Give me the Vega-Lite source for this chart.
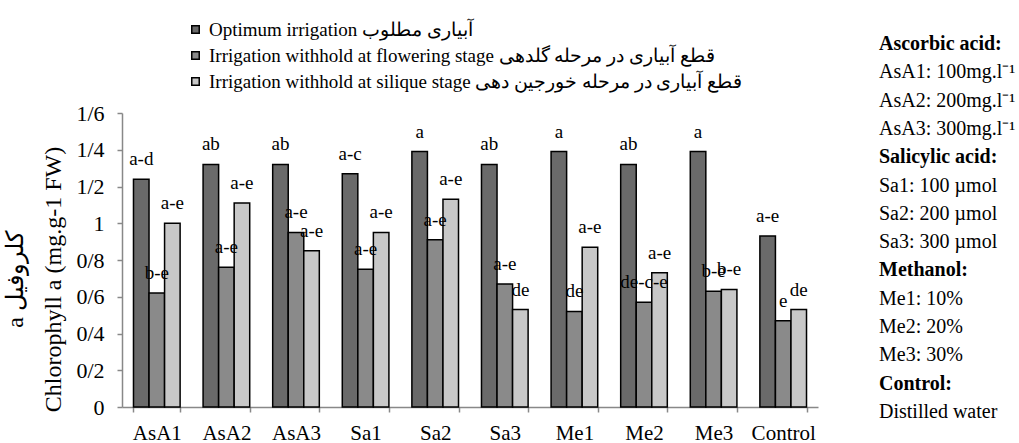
{
  "$schema": "https://vega.github.io/schema/vega-lite/v6.json",
  "background": "white",
  "padding": {"left": 3, "top": 20, "right": 5, "bottom": 0},
  "config": {
    "font": "Liberation Serif",
    "view": {"stroke": null},
    "axis": {"labelFont": "Liberation Serif", "titleFont": "Liberation Serif", "labelColor": "black", "titleColor": "black", "domainColor": "#888888", "tickColor": "#888888", "grid": false, "titleFontWeight": "normal"},
    "legend": {"labelFont": "Liberation Serif"},
    "concat": {"spacing": 60}
  },
  "datasets": {
    "bars": [
      {"group": "AsA1", "treatment": "Optimum irrigation آبیاری مطلوب", "value": 1.24, "label": "a-d"},
      {"group": "AsA1", "treatment": "Irrigation withhold at flowering stage قطع آبیاری در مرحله گلدهی", "value": 0.62, "label": "b-e"},
      {"group": "AsA1", "treatment": "Irrigation withhold at silique stage قطع آبیاری در مرحله خورجین دهی", "value": 1.0, "label": "a-e"},
      {"group": "AsA2", "treatment": "Optimum irrigation آبیاری مطلوب", "value": 1.32, "label": "ab"},
      {"group": "AsA2", "treatment": "Irrigation withhold at flowering stage قطع آبیاری در مرحله گلدهی", "value": 0.76, "label": "a-e"},
      {"group": "AsA2", "treatment": "Irrigation withhold at silique stage قطع آبیاری در مرحله خورجین دهی", "value": 1.11, "label": "a-e"},
      {"group": "AsA3", "treatment": "Optimum irrigation آبیاری مطلوب", "value": 1.32, "label": "ab"},
      {"group": "AsA3", "treatment": "Irrigation withhold at flowering stage قطع آبیاری در مرحله گلدهی", "value": 0.95, "label": "a-e"},
      {"group": "AsA3", "treatment": "Irrigation withhold at silique stage قطع آبیاری در مرحله خورجین دهی", "value": 0.85, "label": "a-e"},
      {"group": "Sa1", "treatment": "Optimum irrigation آبیاری مطلوب", "value": 1.27, "label": "a-c"},
      {"group": "Sa1", "treatment": "Irrigation withhold at flowering stage قطع آبیاری در مرحله گلدهی", "value": 0.75, "label": "a-e"},
      {"group": "Sa1", "treatment": "Irrigation withhold at silique stage قطع آبیاری در مرحله خورجین دهی", "value": 0.95, "label": "a-e"},
      {"group": "Sa2", "treatment": "Optimum irrigation آبیاری مطلوب", "value": 1.39, "label": "a"},
      {"group": "Sa2", "treatment": "Irrigation withhold at flowering stage قطع آبیاری در مرحله گلدهی", "value": 0.91, "label": "a-e"},
      {"group": "Sa2", "treatment": "Irrigation withhold at silique stage قطع آبیاری در مرحله خورجین دهی", "value": 1.13, "label": "a-e"},
      {"group": "Sa3", "treatment": "Optimum irrigation آبیاری مطلوب", "value": 1.32, "label": "ab"},
      {"group": "Sa3", "treatment": "Irrigation withhold at flowering stage قطع آبیاری در مرحله گلدهی", "value": 0.67, "label": "a-e"},
      {"group": "Sa3", "treatment": "Irrigation withhold at silique stage قطع آبیاری در مرحله خورجین دهی", "value": 0.53, "label": "de"},
      {"group": "Me1", "treatment": "Optimum irrigation آبیاری مطلوب", "value": 1.39, "label": "a"},
      {"group": "Me1", "treatment": "Irrigation withhold at flowering stage قطع آبیاری در مرحله گلدهی", "value": 0.52, "label": "de"},
      {"group": "Me1", "treatment": "Irrigation withhold at silique stage قطع آبیاری در مرحله خورجین دهی", "value": 0.87, "label": "a-e"},
      {"group": "Me2", "treatment": "Optimum irrigation آبیاری مطلوب", "value": 1.32, "label": "ab"},
      {"group": "Me2", "treatment": "Irrigation withhold at flowering stage قطع آبیاری در مرحله گلدهی", "value": 0.57, "label": "de-c-e"},
      {"group": "Me2", "treatment": "Irrigation withhold at silique stage قطع آبیاری در مرحله خورجین دهی", "value": 0.73, "label": "a-e"},
      {"group": "Me3", "treatment": "Optimum irrigation آبیاری مطلوب", "value": 1.39, "label": "a"},
      {"group": "Me3", "treatment": "Irrigation withhold at flowering stage قطع آبیاری در مرحله گلدهی", "value": 0.63, "label": "b-e"},
      {"group": "Me3", "treatment": "Irrigation withhold at silique stage قطع آبیاری در مرحله خورجین دهی", "value": 0.64, "label": "b-e"},
      {"group": "Control", "treatment": "Optimum irrigation آبیاری مطلوب", "value": 0.93, "label": "a-e"},
      {"group": "Control", "treatment": "Irrigation withhold at flowering stage قطع آبیاری در مرحله گلدهی", "value": 0.47, "label": "e"},
      {"group": "Control", "treatment": "Irrigation withhold at silique stage قطع آبیاری در مرحله خورجین دهی", "value": 0.53, "label": "de"}
    ],
    "notes": [
      {"idx": 0, "kind": "heading", "text": "Ascorbic acid:"},
      {"idx": 1, "kind": "item", "text": "AsA1: 100mg.l⁻¹"},
      {"idx": 2, "kind": "item", "text": "AsA2: 200mg.l⁻¹"},
      {"idx": 3, "kind": "item", "text": "AsA3: 300mg.l⁻¹"},
      {"idx": 4, "kind": "heading", "text": "Salicylic acid:"},
      {"idx": 5, "kind": "item", "text": "Sa1: 100 µmol"},
      {"idx": 6, "kind": "item", "text": "Sa2: 200 µmol"},
      {"idx": 7, "kind": "item", "text": "Sa3: 300 µmol"},
      {"idx": 8, "kind": "heading", "text": " Methanol:"},
      {"idx": 9, "kind": "item", "text": "Me1: 10%"},
      {"idx": 10, "kind": "item", "text": "Me2: 20%"},
      {"idx": 11, "kind": "item", "text": "Me3: 30%"},
      {"idx": 12, "kind": "heading", "text": " Control:"},
      {"idx": 13, "kind": "item", "text": "Distilled water"}
    ]
  },
  "resolve": {"legend": {"fill": "independent"}},
  "hconcat": [
    {
      "width": 696,
      "height": 294,
      "data": {"name": "bars"},
      "encoding": {
        "x": {
          "field": "group", "type": "nominal",
          "sort": ["AsA1", "AsA2", "AsA3", "Sa1", "Sa2", "Sa3", "Me1", "Me2", "Me3", "Control"],
          "scale": {"paddingInner": 0.33, "paddingOuter": 0.165},
          "axis": {"title": null, "labelAngle": 0, "labelFontSize": 21, "tickBand": "extent", "tickSize": 5, "labelPadding": 10, "domainWidth": 1.5, "tickWidth": 1.5}
        },
        "xOffset": {
          "field": "treatment", "type": "nominal",
          "sort": ["Optimum irrigation آبیاری مطلوب", "Irrigation withhold at flowering stage قطع آبیاری در مرحله گلدهی", "Irrigation withhold at silique stage قطع آبیاری در مرحله خورجین دهی"]
        },
        "y": {
          "field": "value", "type": "quantitative",
          "scale": {"domain": [0, 1.6], "nice": false},
          "axis": {
            "values": [0, 0.2, 0.4, 0.6, 0.8, 1, 1.2, 1.4, 1.6],
            "labelExpr": "replace(format(datum.value, '~g'), '.', '/')",
            "labelFontSize": 22, "labelPadding": 13, "tickSize": 5, "domainWidth": 1.5, "tickWidth": 1.5,
            "title": ["‫کلروفیل a‬", "Chlorophyll a (mg.g-1 FW)"],
            "titleFontSize": 24, "titlePadding": 10, "titleLineHeight": 38, "titleY": 166
          }
        }
      },
      "layer": [
        {
          "mark": {"type": "bar", "stroke": "black", "strokeWidth": 1.5},
          "encoding": {
            "fill": {
              "field": "treatment", "type": "nominal",
              "scale": {
                "domain": ["Optimum irrigation آبیاری مطلوب", "Irrigation withhold at flowering stage قطع آبیاری در مرحله گلدهی", "Irrigation withhold at silique stage قطع آبیاری در مرحله خورجین دهی"],
                "range": ["#6a6a6a", "#8a8a8a", "#c8c8c8"]
              },
              "legend": {
                "title": null, "orient": "none", "legendX": 64, "legendY": -93,
                "direction": "vertical", "symbolType": "square", "symbolSize": 56,
                "symbolStrokeColor": "black", "symbolStrokeWidth": 1.5,
                "labelFont": "Liberation Serif", "labelFontSize": 19, "labelColor": "black", "rowPadding": 6, "labelLimit": 0, "labelOffset": 4
              }
            }
          }
        },
        {
          "mark": {"type": "text", "dy": -20, "fontSize": 19, "baseline": "middle", "color": "black", "font": "Liberation Serif"},
          "encoding": {"text": {"field": "label"}}
        }
      ]
    },
    {
      "width": 2,
      "height": 294,
      "data": {"name": "notes"},
      "encoding": {
        "y": {"field": "idx", "type": "quantitative", "axis": null, "scale": {"domain": [2.438, 12.827], "reverse": true, "nice": false, "zero": false}},
        "text": {"field": "text"}
      },
      "layer": [
        {
          "transform": [{"filter": "datum.kind == 'heading'"}],
          "mark": {"type": "text", "align": "left", "baseline": "middle", "fontSize": 20, "fontWeight": "bold", "color": "black", "font": "Liberation Serif"}
        },
        {
          "transform": [{"filter": "datum.kind == 'item'"}],
          "mark": {"type": "text", "align": "left", "baseline": "middle", "fontSize": 20, "color": "black", "font": "Liberation Serif"}
        }
      ]
    }
  ]
}
